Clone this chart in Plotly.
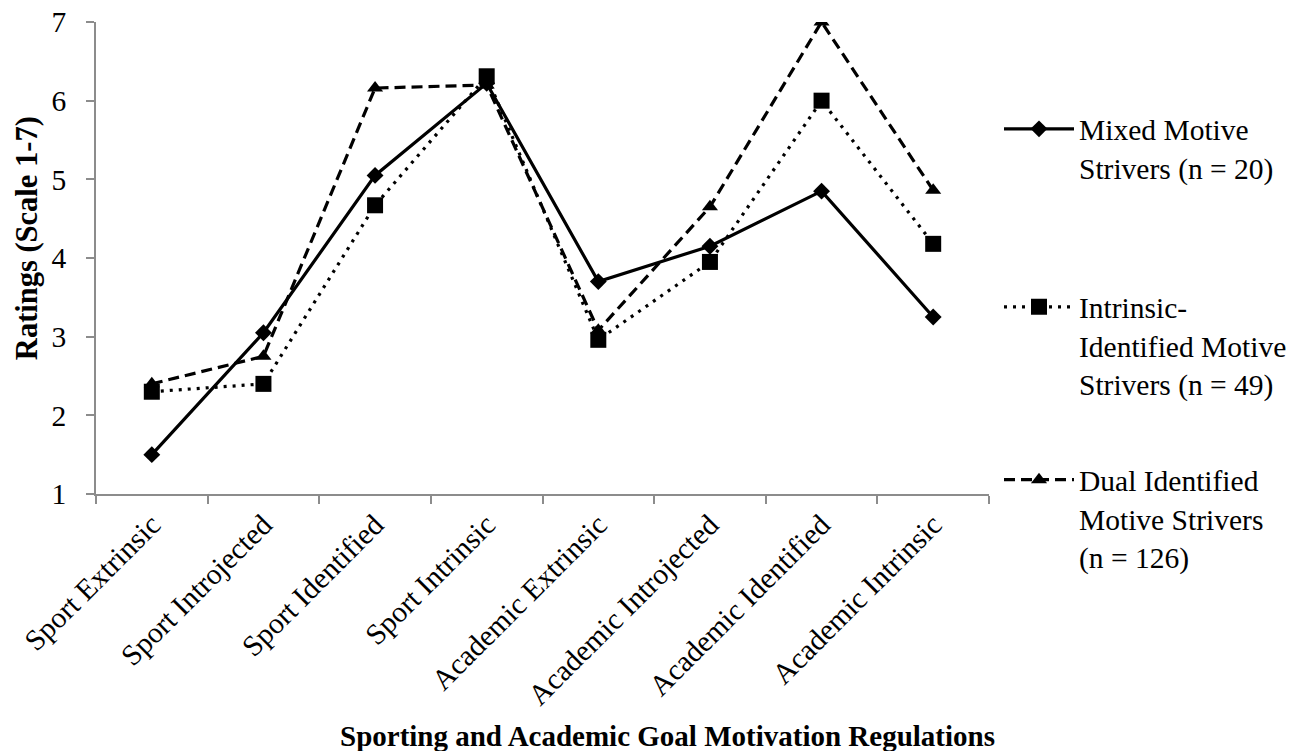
import plotly.graph_objects as go

categories = ["Sport Extrinsic", "Sport Introjected", "Sport Identified", "Sport Intrinsic",
              "Academic Extrinsic", "Academic Introjected", "Academic Identified", "Academic Intrinsic"]
mixed = [1.5, 3.05, 5.05, 6.22, 3.7, 4.15, 4.85, 3.25]
intrinsic_identified = [2.3, 2.4, 4.67, 6.31, 2.96, 3.95, 6.0, 4.18]
dual_identified = [2.4, 2.75, 6.16, 6.2, 3.08, 4.65, 7.0, 4.86]
names = ["Mixed Motive<br>Strivers (n = 20)",
         "Intrinsic-<br>Identified Motive<br>Strivers (n = 49)",
         "Dual Identified<br>Motive Strivers<br>(n = 126)"]

FONT = "Liberation Serif, Times New Roman, serif"
AX = "#8c8c8c"

fig = go.Figure()
fig.add_trace(go.Scatter(x=categories, y=mixed, name=names[0], mode="lines+markers",
                         line=dict(color="black", width=3.2, dash="solid"),
                         marker=dict(symbol="diamond", size=13, color="black"),
                         legend="legend"))
fig.add_trace(go.Scatter(x=categories, y=intrinsic_identified, name=names[1], mode="lines+markers",
                         line=dict(color="black", width=3.2, dash="3px,6px"),
                         marker=dict(symbol="square", size=16, color="black"),
                         legend="legend2"))
fig.add_trace(go.Scatter(x=categories, y=dual_identified, name=names[2], mode="lines+markers",
                         line=dict(color="black", width=3.2, dash="11px,6px"),
                         marker=dict(symbol="triangle-up", size=14, color="black"),
                         legend="legend3"))

leg_common = dict(font=dict(family=FONT, size=29.5, color="black"), valign="top",
                  itemwidth=70, bgcolor="rgba(0,0,0,0)", borderwidth=0,
                  xanchor="left", yanchor="top", tracegroupgap=0)
# page body adds an 8px offset, so the figure is sized 8px smaller than the window
fig.update_layout(
    width=1293, height=743,
    margin=dict(l=88, r=312, t=14, b=257, autoexpand=False),
    plot_bgcolor="white", paper_bgcolor="white",
    font=dict(family=FONT, size=29.5, color="black"),
    showlegend=True,
    legend=dict(x=1.0112, y=0.828, **leg_common),
    legend2=dict(x=1.0112, y=0.451, **leg_common),
    legend3=dict(x=1.0112, y=0.0847, **leg_common),
    xaxis=dict(type="category", showgrid=False, showline=True, linecolor=AX, linewidth=1.5,
               ticks="outside", tickson="boundaries", ticklen=8, tickcolor=AX, tickwidth=1.5,
               tickangle=-45, tickfont=dict(family=FONT, size=29.5, color="black"),
               range=[-0.5, 7.5], automargin=False, ticklabeloverflow="allow"),
    yaxis=dict(range=[1, 7], dtick=1, showgrid=False, showline=True, linecolor=AX, linewidth=1.5,
               ticks="outside", ticklen=8, tickcolor=AX, tickwidth=1.5, zeroline=False,
               ticklabelstandoff=14, tickfont=dict(family=FONT, size=29.5, color="black"),
               automargin=False, ticklabeloverflow="allow"),
    annotations=[
        dict(text="<b>Ratings (Scale 1-7)</b>", xref="paper", yref="paper", x=-0.0773, y=0.542,
             textangle=-90, showarrow=False, font=dict(family=FONT, size=30.5, color="black"),
             xanchor="center", yanchor="middle"),
        dict(text="<b>Sporting and Academic Goal Motivation Regulations</b>", xref="paper", yref="paper",
             x=0.64, y=-0.5127, showarrow=False, font=dict(family=FONT, size=29, color="black"),
             xanchor="center", yanchor="middle"),
    ],
)
fig.write_html("out.html")
